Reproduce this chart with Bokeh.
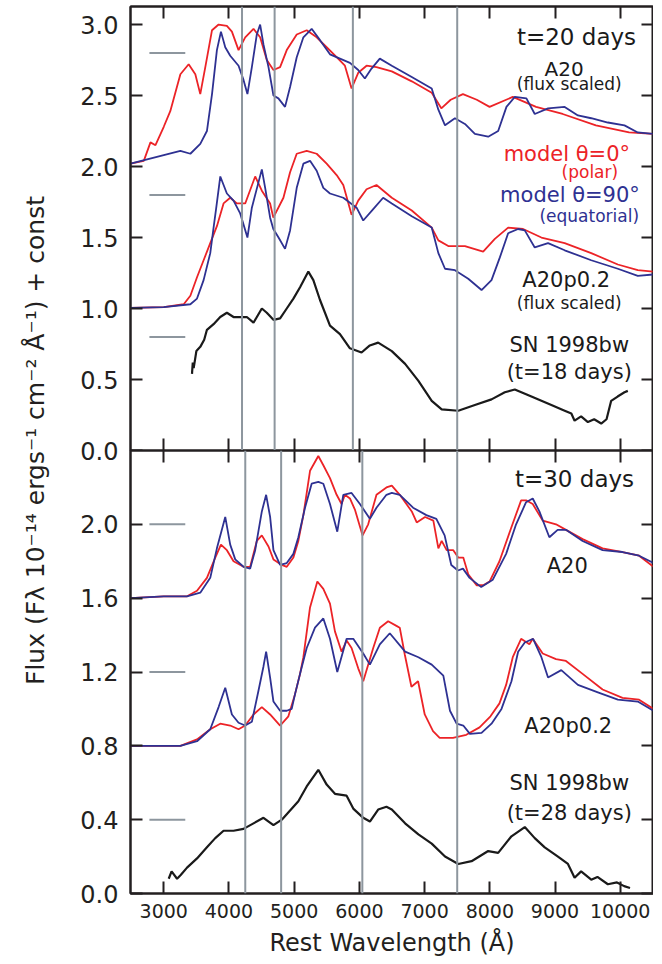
from bokeh.plotting import figure
from bokeh.models import Range1d, LinearAxis, FixedTicker, Span, Label, PrintfTickFormatter
from bokeh.layouts import row, column
from bokeh.embed import file_html
from bokeh.resources import INLINE

FONT = "DejaVu Sans"
RED = "#ec2327"
BLUE = "#2e3192"
BLACK = "#1a1a1a"
GRAY = "#8d969e"
FRAME = "#231f20"

# ---------------- data ----------------
x_ticks = [3000, 4000, 5000, 6000, 7000, 8000, 9000, 10000]
top_y_ticks = [0.0, 0.5, 1.0, 1.5, 2.0, 2.5, 3.0]
bot_y_ticks = [0.0, 0.4, 0.8, 1.2, 1.6, 2.0]

top_lines = [4200, 4700, 5900, 7500]
bot_lines = [4250, 4800, 6045, 7500]
top_marks = [2.8, 1.8, 0.8]
bot_marks = [2.0, 1.2, 0.4]
mark_x = [2780, 3330]

# t = 20 days
t20_a20_red_wl = [2490, 2694, 2796, 2873, 3000, 3100, 3255, 3382, 3484, 3560, 3637, 3740, 3841, 3968, 4045,
                  4147, 4249, 4376, 4478, 4580, 4682, 4784, 4886, 5039, 5192, 5345, 5498, 5651, 5778, 5880,
                  5982, 6110, 6262, 6497, 6803, 7109, 7256, 7400, 7588, 7800, 7996, 8352, 8709, 9117, 9627,
                  10136, 10510]
t20_a20_red = [2.02, 2.04, 2.17, 2.15, 2.28, 2.39, 2.65, 2.72, 2.65, 2.51, 2.70, 2.96, 3.00, 2.99, 2.95,
               2.82, 2.91, 2.97, 2.91, 2.75, 2.68, 2.70, 2.82, 2.93, 2.96, 2.91, 2.84, 2.77, 2.71, 2.55,
               2.66, 2.71, 2.70, 2.67, 2.60, 2.52, 2.41, 2.47, 2.51, 2.47, 2.42, 2.49, 2.42, 2.37, 2.29,
               2.24, 2.23]

t20_a20_blue_wl = [2490, 2745, 3000, 3255, 3408, 3560, 3662, 3740, 3815, 3877, 3943, 4019, 4147, 4223, 4283,
                   4351, 4427, 4478, 4529, 4606, 4682, 4758, 4860, 4937, 5039, 5141, 5268, 5396, 5549, 5702,
                   5855, 5982, 6084, 6186, 6313, 6497, 6803, 7109, 7211, 7313, 7465, 7618, 7771, 7975, 8128,
                   8255, 8383, 8561, 8689, 8893, 9148, 9351, 9555, 9810, 10065, 10269, 10510]
t20_a20_blue = [2.02, 2.05, 2.08, 2.11, 2.09, 2.16, 2.25, 2.51, 2.82, 2.95, 2.84, 2.78, 2.71, 2.61, 2.51,
                2.70, 2.93, 3.00, 2.86, 2.70, 2.50, 2.48, 2.42, 2.56, 2.77, 2.91, 2.97, 2.89, 2.79, 2.76,
                2.73, 2.68, 2.62, 2.69, 2.76, 2.71, 2.63, 2.55, 2.40, 2.29, 2.34, 2.30, 2.23, 2.21, 2.25,
                2.42, 2.49, 2.48, 2.37, 2.41, 2.42, 2.36, 2.34, 2.31, 2.29, 2.24, 2.23]

t20_p02_red_wl = [2490, 3000, 3306, 3408, 3510, 3611, 3713, 3815, 3917, 4019, 4121, 4249, 4402, 4504, 4631,
                  4680, 4835, 4937, 5039, 5192, 5345, 5498, 5651, 5753, 5880, 5982, 6110, 6262, 6497, 6803,
                  7109, 7211, 7363, 7618, 7898, 8077, 8281, 8510, 8791, 9148, 9555, 9963, 10269, 10510]
t20_p02_red = [1.005, 1.01, 1.03, 1.09, 1.22, 1.34, 1.46, 1.58, 1.74, 1.78, 1.74, 1.74, 1.93, 1.83, 1.74,
               1.64, 1.78, 1.96, 2.09, 2.11, 2.09, 2.02, 1.94, 1.87, 1.66, 1.76, 1.84, 1.87, 1.78, 1.69,
               1.57, 1.48, 1.44, 1.44, 1.40, 1.49, 1.57, 1.56, 1.50, 1.46, 1.39, 1.31, 1.27, 1.26]

t20_p02_blue_wl = [2490, 3000, 3408, 3510, 3611, 3713, 3764, 3805, 3867, 3968, 4070, 4172, 4283, 4351, 4504,
                   4555, 4631, 4680, 4760, 4860, 4937, 5039, 5141, 5243, 5345, 5447, 5549, 5753, 5957, 6059,
                   6212, 6364, 6497, 6803, 7109, 7211, 7313, 7465, 7669, 7873, 8026, 8154, 8281, 8434, 8536,
                   8689, 8893, 9148, 9555, 9963, 10269, 10510]
t20_p02_blue = [1.005, 1.01, 1.03, 1.07, 1.20, 1.39, 1.57, 1.71, 1.93, 1.81, 1.76, 1.67, 1.50, 1.71, 1.98,
                1.85, 1.64, 1.56, 1.50, 1.42, 1.55, 1.85, 2.02, 2.04, 1.97, 1.85, 1.81, 1.78, 1.71, 1.62,
                1.70, 1.78, 1.74, 1.65, 1.57, 1.39, 1.28, 1.27, 1.21, 1.13, 1.20, 1.36, 1.53, 1.56, 1.55,
                1.43, 1.46, 1.41, 1.34, 1.28, 1.23, 1.24]

t18_sn_wl = [3433, 3445, 3459, 3500, 3560, 3620, 3662, 3764, 3866, 3968, 4070, 4172, 4274, 4376, 4504, 4580,
             4682, 4784, 4886, 4988, 5090, 5217, 5294, 5396, 5549, 5702, 5855, 6033, 6160, 6288, 6497, 6701,
             6905, 7109, 7262, 7516, 7771, 8026, 8230, 8383, 8638, 8944, 9148, 9250, 9300, 9400, 9504, 9600,
             9708, 9790, 9861, 9960, 10065, 10116]
t18_sn = [0.54, 0.62, 0.58, 0.70, 0.73, 0.78, 0.85, 0.89, 0.94, 0.97, 0.94, 0.94, 0.94, 0.90, 1.00, 0.97,
          0.92, 0.93, 1.00, 1.07, 1.15, 1.26, 1.20, 1.06, 0.88, 0.82, 0.72, 0.69, 0.74, 0.76, 0.70, 0.61,
          0.49, 0.35, 0.29, 0.28, 0.32, 0.36, 0.41, 0.43, 0.38, 0.32, 0.28, 0.26, 0.21, 0.24, 0.20, 0.22,
          0.19, 0.22, 0.35, 0.38, 0.41, 0.42]

# t = 30 days
t30_a20_red_wl = [2490, 3000, 3357, 3510, 3662, 3790, 3877, 3968, 4070, 4223, 4325, 4427, 4504, 4606, 4682,
                  4810, 4886, 4988, 5064, 5141, 5243, 5370, 5447, 5549, 5651, 5727, 5778, 5855, 5931, 6049,
                  6135, 6262, 6415, 6497, 6619, 6803, 6879, 7007, 7134, 7211, 7262, 7338, 7440, 7516, 7593,
                  7669, 7797, 7899, 7996, 8148, 8327, 8480, 8556, 8658, 8811, 9015, 9168, 9423, 9729, 10035,
                  10289, 10510]
t30_a20_red = [1.60, 1.61, 1.61, 1.64, 1.71, 1.82, 1.89, 1.86, 1.80, 1.77, 1.77, 1.91, 1.94, 1.88, 1.81,
               1.78, 1.77, 1.82, 1.91, 2.05, 2.29, 2.37, 2.32, 2.25, 2.16, 2.11, 2.16, 2.14, 2.08, 1.94,
               2.00, 2.16, 2.20, 2.21, 2.16, 2.07, 2.01, 2.04, 2.02, 1.87, 1.91, 1.86, 1.86, 1.82, 1.82,
               1.73, 1.67, 1.67, 1.69, 1.80, 1.98, 2.13, 2.13, 2.11, 2.02, 2.00, 1.97, 1.92, 1.87, 1.85,
               1.83, 1.77]

t30_a20_blue_wl = [2490, 3000, 3357, 3560, 3713, 3815, 3943, 4019, 4096, 4223, 4325, 4402, 4504, 4570, 4631,
                   4682, 4784, 4886, 4988, 5064, 5166, 5268, 5370, 5447, 5549, 5661, 5753, 5880, 6008, 6161,
                   6262, 6415, 6497, 6619, 6823, 7027, 7180, 7307, 7409, 7511, 7588, 7690, 7868, 8046, 8250,
                   8403, 8556, 8658, 8760, 8913, 9040, 9168, 9423, 9729, 10035, 10289, 10510]
t30_a20_blue = [1.60, 1.61, 1.61, 1.63, 1.71, 1.87, 2.04, 1.89, 1.81, 1.77, 1.76, 1.86, 2.07, 2.16, 2.04,
                1.86, 1.78, 1.79, 1.84, 1.93, 2.09, 2.22, 2.23, 2.22, 2.11, 1.96, 2.16, 2.17, 2.11, 2.03,
                2.09, 2.16, 2.17, 2.16, 2.09, 2.05, 2.03, 1.94, 1.78, 1.75, 1.76, 1.71, 1.66, 1.70, 1.84,
                2.00, 2.12, 2.14, 2.07, 1.93, 1.97, 1.97, 1.91, 1.86, 1.85, 1.83, 1.79]

t30_p02_red_wl = [2490, 3255, 3510, 3713, 3866, 4019, 4147, 4249, 4376, 4504, 4631, 4784, 4911, 5013, 5090,
                  5141, 5243, 5355, 5447, 5549, 5625, 5727, 5804, 5880, 5982, 6059, 6212, 6314, 6441, 6568,
                  6619, 6696, 6798, 6900, 7002, 7129, 7231, 7435, 7639, 7843, 8010, 8148, 8250, 8352, 8480,
                  8607, 8658, 8811, 9015, 9168, 9423, 9729, 10035, 10289, 10510]
t30_p02_red = [0.80, 0.80, 0.835, 0.89, 0.92, 0.91, 0.89, 0.91, 0.97, 1.01, 0.97, 0.91, 0.96, 1.08, 1.19,
               1.28, 1.55, 1.69, 1.65, 1.57, 1.42, 1.31, 1.37, 1.33, 1.22, 1.15, 1.33, 1.44, 1.475, 1.45,
               1.44, 1.295, 1.12, 1.15, 0.97, 0.88, 0.843, 0.843, 0.86, 0.90, 0.96, 1.03, 1.13, 1.28, 1.38,
               1.35, 1.38, 1.30, 1.27, 1.26, 1.19, 1.105, 1.06, 1.05, 1.00]

t30_p02_blue_wl = [2490, 3255, 3510, 3713, 3841, 3943, 4045, 4147, 4249, 4351, 4453, 4529, 4570, 4631, 4682,
                   4784, 4886, 4962, 5013, 5090, 5192, 5319, 5447, 5549, 5661, 5804, 5906, 6059, 6161, 6313,
                   6466, 6701, 6905, 7109, 7287, 7389, 7491, 7593, 7695, 7873, 8026, 8179, 8332, 8434, 8536,
                   8664, 8791, 8893, 9096, 9351, 9657, 9963, 10269, 10510]
t30_p02_blue = [0.80, 0.80, 0.825, 0.89, 1.01, 1.115, 0.97, 0.925, 0.91, 0.93, 1.10, 1.23, 1.31, 1.17, 1.04,
                0.99, 0.99, 1.00, 1.08, 1.19, 1.33, 1.44, 1.49, 1.38, 1.20, 1.38, 1.38, 1.30, 1.24, 1.35,
                1.41, 1.31, 1.28, 1.24, 1.18, 0.99, 0.92, 0.91, 0.865, 0.87, 0.92, 1.00, 1.15, 1.31, 1.36,
                1.38, 1.28, 1.17, 1.21, 1.13, 1.09, 1.05, 1.04, 0.99]

t28_sn_wl = [3076, 3120, 3204, 3260, 3357, 3510, 3662, 3790, 3917, 4070, 4223, 4376, 4529, 4682, 4810, 4937,
             5064, 5192, 5370, 5498, 5625, 5804, 5906, 6059, 6161, 6288, 6415, 6497, 6701, 6905, 7109, 7313,
             7516, 7720, 7975, 8128, 8332, 8536, 8689, 8842, 9045, 9198, 9300, 9400, 9555, 9650, 9810, 9950,
             10060, 10150]
t28_sn = [0.08, 0.12, 0.08, 0.10, 0.14, 0.19, 0.25, 0.30, 0.34, 0.34, 0.35, 0.38, 0.41, 0.37, 0.40, 0.45,
          0.50, 0.58, 0.67, 0.59, 0.54, 0.53, 0.46, 0.41, 0.39, 0.455, 0.47, 0.455, 0.38, 0.32, 0.27, 0.20,
          0.16, 0.175, 0.23, 0.22, 0.31, 0.36, 0.30, 0.25, 0.20, 0.16, 0.085, 0.12, 0.075, 0.09, 0.05, 0.06,
          0.04, 0.03]

# ---------------- layout ----------------
TITLE_W = 55
LEFT_BORDER = 75
FRAME_W = 523
TOP_H = 444
BOT_H = 443
TOP_PAD = 6
OVERLAP = 18
BOT_BORDER = 66
TOTAL_H = TOP_PAD + TOP_H + BOT_H + BOT_BORDER


def style_axis(ax, ticks, labels, font_size="19px", standoff=10):
    ax.ticker = FixedTicker(ticks=ticks)
    ax.major_tick_in = 12
    ax.major_tick_out = 0
    ax.major_tick_line_width = 2
    ax.major_tick_line_color = FRAME
    ax.minor_tick_line_color = None
    ax.axis_line_width = 2
    ax.axis_line_color = FRAME
    if labels:
        ax.major_label_text_font = FONT
        ax.major_label_text_font_size = font_size
        ax.major_label_text_color = FRAME
        ax.major_label_standoff = standoff
    else:
        ax.major_label_text_color = None
        ax.major_label_text_font_size = "1px"
        ax.major_label_standoff = 0


def make_panel(y_end, frame_h, min_top, min_bottom, **kw):
    p = figure(frame_width=FRAME_W, frame_height=frame_h,
               x_range=Range1d(2490, 10510), y_range=Range1d(0, y_end),
               output_backend="svg", toolbar_location=None,
               x_axis_location=None, y_axis_location=None,
               min_border_left=LEFT_BORDER, min_border_right=0,
               min_border_top=min_top, min_border_bottom=min_bottom, **kw)
    p.grid.grid_line_color = None
    p.outline_line_color = FRAME
    p.outline_line_width = 2
    p.background_fill_color = "white"
    return p


def add_text(p, x, y, text, size, color=BLACK, align="center"):
    p.add_layout(Label(x=x, y=y, text=text, text_font=FONT, text_font_size=size,
                       text_color=color, text_align=align, text_baseline="middle"))


# ---- top panel (t=20 days)
top = make_panel(3.127, TOP_H, TOP_PAD, OVERLAP)
top.border_fill_color = "white"
ax = LinearAxis(formatter=PrintfTickFormatter(format="%.1f"))
style_axis(ax, top_y_ticks, True, "24px", 12)
top.add_layout(ax, "left")
ax = LinearAxis()
style_axis(ax, top_y_ticks, False)
top.add_layout(ax, "right")
ax = LinearAxis()
style_axis(ax, x_ticks, False)
top.add_layout(ax, "above")
ax = LinearAxis()
style_axis(ax, x_ticks, False)
top.add_layout(ax, "below")

for v in top_lines:
    top.add_layout(Span(location=v, dimension="height", line_color=GRAY, line_width=2))
top.segment(x0=mark_x[0], x1=mark_x[1], y0=top_marks, y1=top_marks, line_color=GRAY, line_width=2)

top.line(t20_a20_red_wl, t20_a20_red, line_color=RED, line_width=1.8)
top.line(t20_a20_blue_wl, t20_a20_blue, line_color=BLUE, line_width=1.8)
top.line(t20_p02_red_wl, t20_p02_red, line_color=RED, line_width=1.8)
top.line(t20_p02_blue_wl, t20_p02_blue, line_color=BLUE, line_width=1.8)
top.line(t18_sn_wl, t18_sn, line_color=BLACK, line_width=2.2)

add_text(top, 10243, 2.91, "t=20 days", "23px", align="right")
add_text(top, 9140, 2.69, "A20", "20px")
add_text(top, 9218, 2.58, "(flux scaled)", "17px")
add_text(top, 10150, 2.09, "model θ=0°", "21px", RED, "right")
add_text(top, 9968, 1.96, "(polar)", "17px", RED, "right")
add_text(top, 10300, 1.80, "model θ=90°", "21px", BLUE, "right")
add_text(top, 10289, 1.655, "(equatorial)", "17px", BLUE, "right")
add_text(top, 9172, 1.20, "A20p0.2", "21px")
add_text(top, 9218, 1.04, "(flux scaled)", "17px")
add_text(top, 9218, 0.74, "SN 1998bw", "21px")
add_text(top, 9218, 0.55, "(t=18 days)", "21px")

# ---- bottom panel (t=30 days); pulled up so that its frame meets the top frame
bot = make_panel(2.4, BOT_H, 0, BOT_BORDER, styles={"margin-top": f"-{OVERLAP}px"})
bot.border_fill_color = None
ax = LinearAxis(formatter=PrintfTickFormatter(format="%.1f"))
style_axis(ax, bot_y_ticks, True, "24px", 12)
bot.add_layout(ax, "left")
ax = LinearAxis()
style_axis(ax, bot_y_ticks, False)
bot.add_layout(ax, "right")
ax = LinearAxis()
style_axis(ax, x_ticks, False)
bot.add_layout(ax, "above")
ax = LinearAxis(axis_label="Rest Wavelength (Å)")
style_axis(ax, x_ticks, True, "19px", 10)
ax.axis_label_text_font = FONT
ax.axis_label_text_font_size = "24px"
ax.axis_label_text_font_style = "normal"
ax.axis_label_text_color = FRAME
ax.axis_label_standoff = 8
bot.add_layout(ax, "below")

for v in bot_lines:
    bot.add_layout(Span(location=v, dimension="height", line_color=GRAY, line_width=2))
bot.segment(x0=mark_x[0], x1=mark_x[1], y0=bot_marks, y1=bot_marks, line_color=GRAY, line_width=2)

bot.line(t30_a20_red_wl, t30_a20_red, line_color=RED, line_width=1.8)
bot.line(t30_a20_blue_wl, t30_a20_blue, line_color=BLUE, line_width=1.8)
bot.line(t30_p02_red_wl, t30_p02_red, line_color=RED, line_width=1.8)
bot.line(t30_p02_blue_wl, t30_p02_blue, line_color=BLUE, line_width=1.8)
bot.line(t28_sn_wl, t28_sn, line_color=BLACK, line_width=2.2)

add_text(bot, 10212, 2.245, "t=30 days", "23px", align="right")
add_text(bot, 9187, 1.774, "A20", "21px")
add_text(bot, 9203, 0.907, "A20p0.2", "21px")
add_text(bot, 9218, 0.598, "SN 1998bw", "21px")
add_text(bot, 9218, 0.436, "(t=28 days)", "21px")

# ---- y-axis title column
tfig = figure(width=TITLE_W, height=TOTAL_H, x_range=Range1d(0, TITLE_W), y_range=Range1d(0, TOTAL_H),
              output_backend="svg", toolbar_location=None,
              x_axis_location=None, y_axis_location=None, min_border=0)
tfig.grid.grid_line_color = None
tfig.outline_line_color = None
tfig.add_layout(Label(x=35, y=TOTAL_H - 440, text="Flux (Fλ 10⁻¹⁴ ergs⁻¹ cm⁻² Å⁻¹) + const",
                      angle=90, angle_units="deg", text_font=FONT, text_font_size="25px",
                      text_color=FRAME, text_align="center", text_baseline="middle"))

layout = row(tfig, column(top, bot, spacing=0), spacing=0)

with open("out.html", "w") as f:
    f.write(file_html(layout, INLINE))
